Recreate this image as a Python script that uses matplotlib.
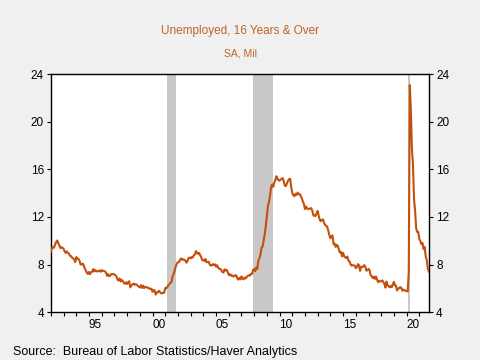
import numpy as np
import matplotlib.pyplot as plt

plt.rcParams['font.family'] = ['Liberation Sans', 'DejaVu Sans']

# Unemployed, 16 years & over, SA, millions (monthly, Jan 1992 onward)
unemployed = [
    9.10, 9.35, 9.46, 9.42, 9.69, 9.90, 10.02, 9.78, 9.61, 9.38, 9.46, 9.40,  # 1992
    9.33, 9.10, 8.98, 9.11, 8.98, 8.93, 8.74, 8.71, 8.57, 8.53, 8.41, 8.20,  # 1993
    8.63, 8.49, 8.47, 8.33, 8.01, 7.99, 8.08, 7.95, 7.67, 7.50, 7.30, 7.21,  # 1994
    7.38, 7.19, 7.36, 7.39, 7.62, 7.42, 7.53, 7.44, 7.42, 7.45, 7.50, 7.39,  # 1995
    7.53, 7.47, 7.45, 7.43, 7.33, 7.06, 7.19, 7.01, 7.07, 7.19, 7.19, 7.21,  # 1996
    7.16, 7.09, 7.00, 6.73, 6.65, 6.83, 6.58, 6.70, 6.60, 6.44, 6.38, 6.50,  # 1997
    6.37, 6.51, 6.59, 6.08, 6.27, 6.31, 6.40, 6.30, 6.35, 6.32, 6.22, 6.14,  # 1998
    6.07, 6.27, 6.04, 6.23, 6.02, 6.13, 6.11, 6.05, 6.06, 5.96, 5.97, 5.96,  # 1999
    5.71, 5.85, 5.82, 5.48, 5.65, 5.66, 5.79, 5.70, 5.59, 5.57, 5.63, 5.63,  # 2000
    6.02, 6.00, 6.12, 6.28, 6.36, 6.48, 6.54, 7.04, 7.19, 7.53, 7.85, 8.10,  # 2001
    8.18, 8.20, 8.40, 8.52, 8.39, 8.43, 8.40, 8.33, 8.16, 8.29, 8.54, 8.59,  # 2002
    8.52, 8.62, 8.59, 8.78, 8.83, 9.13, 8.98, 8.90, 8.97, 8.78, 8.61, 8.37,  # 2003
    8.37, 8.30, 8.47, 8.19, 8.21, 8.24, 8.01, 7.91, 7.94, 8.03, 7.95, 8.02,  # 2004
    7.82, 7.94, 7.74, 7.64, 7.63, 7.52, 7.36, 7.33, 7.59, 7.50, 7.55, 7.38,  # 2005
    7.12, 7.19, 7.07, 7.10, 7.00, 7.02, 7.09, 7.10, 6.86, 6.73, 6.87, 6.75,  # 2006
    7.00, 6.80, 6.76, 6.92, 6.83, 6.95, 7.05, 7.09, 7.07, 7.20, 7.22, 7.55,  # 2007
    7.62, 7.44, 7.76, 7.63, 8.38, 8.51, 8.87, 9.44, 9.50, 10.04, 10.58, 11.24,  # 2008
    12.05, 12.90, 13.27, 13.80, 14.50, 14.73, 14.53, 14.88, 15.11, 15.42, 15.21, 15.08,  # 2009
    15.05, 15.13, 15.22, 15.26, 14.97, 14.62, 14.60, 14.84, 15.04, 15.18, 15.20, 14.49,  # 2010
    14.01, 13.82, 13.74, 13.95, 13.85, 14.05, 13.91, 13.92, 13.76, 13.57, 13.28, 13.10,  # 2011
    12.65, 12.88, 12.73, 12.65, 12.69, 12.72, 12.74, 12.49, 12.11, 12.12, 12.08, 12.32,  # 2012
    12.51, 12.07, 11.74, 11.65, 11.76, 11.79, 11.52, 11.32, 11.27, 11.17, 10.85, 10.47,  # 2013
    10.20, 10.35, 10.45, 9.70, 9.76, 9.48, 9.65, 9.57, 9.27, 9.01, 9.07, 8.69,  # 2014
    8.98, 8.70, 8.59, 8.55, 8.67, 8.33, 8.27, 8.03, 7.91, 7.94, 7.94, 7.90,  # 2015
    7.69, 7.81, 8.03, 7.95, 7.46, 7.81, 7.78, 7.83, 7.95, 7.81, 7.48, 7.53,  # 2016
    7.63, 7.53, 7.10, 7.02, 6.86, 6.97, 6.79, 7.00, 6.76, 6.52, 6.62, 6.58,  # 2017
    6.58, 6.67, 6.54, 6.35, 6.06, 6.57, 6.29, 6.18, 6.08, 6.20, 6.10, 6.34,  # 2018
    6.55, 6.24, 6.21, 5.82, 5.99, 6.02, 6.10, 6.03, 5.80, 5.89, 5.83, 5.78,  # 2019
    5.79, 5.74, 7.37, 23.08, 20.99, 17.70, 16.35, 13.47, 12.53, 11.05, 10.73, 10.74,  # 2020
    10.13, 9.97, 9.71, 9.81, 9.30, 9.48, 8.70, 8.38, 7.67, 7.40,  # 2021
]
start_year = 1992
dates = start_year + np.arange(len(unemployed)) / 12.0

# NBER recessions (decimal years)
recessions = [(2001.17, 2001.83), (2007.92, 2009.45), (2020.1, 2020.3)]

year_labels = ['95', '00', '05', '10', '15', '20']
label_years = [1995, 2000, 2005, 2010, 2015, 2020]
y_ticks = [4, 8, 12, 16, 20, 24]

title_color = '#c0622a'
line_color = '#c4500c'

fig = plt.figure(figsize=(4.8, 3.6), dpi=100, facecolor='#f0f0f0')
ax = fig.add_axes([0.106, 0.133, 0.788, 0.661])
ax.set_facecolor('white')

for r0, r1 in recessions:
    ax.axvspan(r0, r1, color='#c8c8c8', lw=0, zorder=1)

ax.plot(dates, unemployed, color=line_color, lw=1.5, zorder=3)

ax.set_xlim(1992, dates[-1] + 0.02)
ax.set_ylim(4, 24)

ax.set_yticks(y_ticks)
ax.tick_params(axis='y', direction='out', length=3, width=0.8,
               left=True, right=True, labelleft=True, labelright=True,
               labelsize=8.5, pad=2)

ax.set_xticks(np.arange(1992, 2022), labels=[''] * 30)
ax.tick_params(axis='x', which='major', direction='out', length=3, width=0.8)
ax.set_xticks([y + 0.5 for y in label_years], labels=year_labels, minor=True)
ax.tick_params(axis='x', which='minor', length=0, labelsize=8.5, pad=5)

for s in ax.spines.values():
    s.set_linewidth(1.0)
    s.set_color('black')

fig.text(0.5, 0.915, 'Unemployed, 16 Years & Over', ha='center', va='center',
         fontsize=8.5, color=title_color)
fig.text(0.5, 0.85, 'SA, Mil', ha='center', va='center',
         fontsize=7.5, color=title_color)
fig.text(0.027, 0.022, 'Source:  Bureau of Labor Statistics/Haver Analytics',
         ha='left', va='center', fontsize=9, color='black')

fig.savefig('out.png', dpi=100, facecolor=fig.get_facecolor())
